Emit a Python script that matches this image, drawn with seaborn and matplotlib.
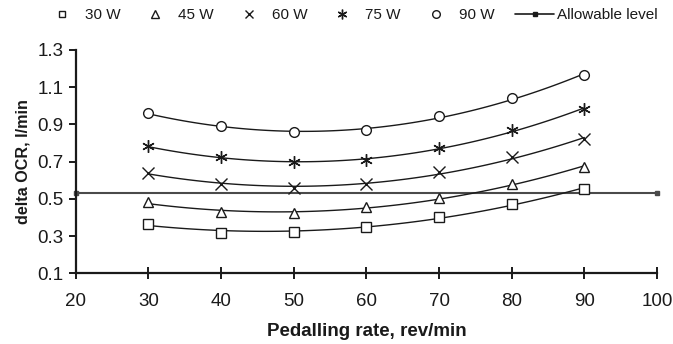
import numpy as np
import pandas as pd
import matplotlib
matplotlib.use("Agg")
import matplotlib.pyplot as plt
from matplotlib.lines import Line2D
import seaborn as sns

# ---- data ----
rates = [30, 40, 50, 60, 70, 80, 90]
series_names = ["30 W", "45 W", "60 W", "75 W", "90 W"]
ocr_30w = [0.367, 0.318, 0.320, 0.351, 0.404, 0.472, 0.553]
ocr_45w = [0.483, 0.429, 0.422, 0.454, 0.506, 0.580, 0.671]
ocr_60w = [0.641, 0.580, 0.558, 0.580, 0.644, 0.723, 0.821]
ocr_75w = [0.782, 0.723, 0.696, 0.707, 0.775, 0.870, 0.982]
ocr_90w = [0.961, 0.889, 0.857, 0.870, 0.945, 1.042, 1.165]
allow_x = [20, 100]
allow_y = [0.53, 0.53]
x_ticks = [20, 30, 40, 50, 60, 70, 80, 90, 100]
y_ticks = [0.1, 0.3, 0.5, 0.7, 0.9, 1.1, 1.3]

sns.set_theme(style="white")
plt.rcParams["font.family"] = ["Liberation Sans", "DejaVu Sans"]

values = [ocr_30w, ocr_45w, ocr_60w, ocr_75w, ocr_90w]
markers = ["s", "^", "x", (6, 2, 0), "o"]
msizes = [6.5, 7, 8, 9, 7]
leg_msizes = [5, 5.5, 6, 7, 5.5]
ink = "#1a1a1a"

fig = plt.figure(figsize=(6.73, 3.44), dpi=100)
ax = fig.add_axes([0.1125, 0.2055, 0.8637, 0.6492])

# allowable level
ax.plot(allow_x, allow_y, color="#4a4a4a", lw=1.5, marker="s", ms=2.5,
        clip_on=False, zorder=2)

for name, vals, mk, msz in zip(series_names, values, markers, msizes):
    df = pd.DataFrame({"rate": rates, "ocr": vals})
    sns.regplot(data=df, x="rate", y="ocr", order=2, ci=None, scatter=False,
                ax=ax, line_kws=dict(color=ink, lw=1.0))
    filled = mk in ["x", (6, 2, 0)]
    ax.plot(df["rate"], df["ocr"], ls="none", marker=mk, ms=msz,
            mfc=ink if filled else "white", mec=ink, mew=1.0,
            zorder=3, clip_on=False)

ax.set_xlim(20, 100)
ax.set_ylim(0.1, 1.3)
ax.set_xticks(x_ticks)
ax.set_yticks(y_ticks)
ax.set_xticklabels([str(v) for v in x_ticks])
ax.set_yticklabels([f"{v:.1f}" for v in y_ticks])
for s in ["top", "right"]:
    ax.spines[s].set_visible(False)
for s in ["left", "bottom"]:
    ax.spines[s].set_color(ink)
    ax.spines[s].set_linewidth(1.6)
ax.tick_params(axis="y", direction="out", length=5, width=1.4, pad=4,
               labelsize=13.5, colors=ink, left=True)
ax.tick_params(axis="x", direction="inout", length=9, width=1.4, pad=10,
               labelsize=13.5, colors=ink, bottom=True)
ax.set_xlabel("Pedalling rate, rev/min", fontsize=13.5, fontweight="bold",
              color=ink, labelpad=9)
ax.set_ylabel("delta OCR, l/min", fontsize=11.6, fontweight="bold",
              color=ink, labelpad=5)
ax.grid(False)

handles = []
for name, mk, msz in zip(series_names, markers, leg_msizes):
    filled = mk in ["x", (6, 2, 0)]
    handles.append(Line2D([], [], ls="none", marker=mk, ms=msz,
                          mfc=ink if filled else "white", mec=ink,
                          mew=1.0, label=name))
allow_handle = Line2D([], [], color=ink, lw=1.2, marker="s", ms=2.5,
                      label="Allowable level")

leg1 = fig.legend(handles=handles, loc="center left",
                  bbox_to_anchor=(54 / 673, 1 - 15 / 344),
                  ncol=5, frameon=False, fontsize=11, handlelength=1.0,
                  handletextpad=1.0, columnspacing=1.79, borderpad=0,
                  borderaxespad=0)
leg2 = fig.legend(handles=[allow_handle], loc="center left",
                  bbox_to_anchor=(514.7 / 673, 1 - 15 / 344),
                  frameon=False, fontsize=11, handlelength=2.6,
                  handletextpad=0.15, borderpad=0, borderaxespad=0)
for lg in (leg1, leg2):
    for t in lg.get_texts():
        t.set_color(ink)

fig.savefig("out.png", dpi=100)
